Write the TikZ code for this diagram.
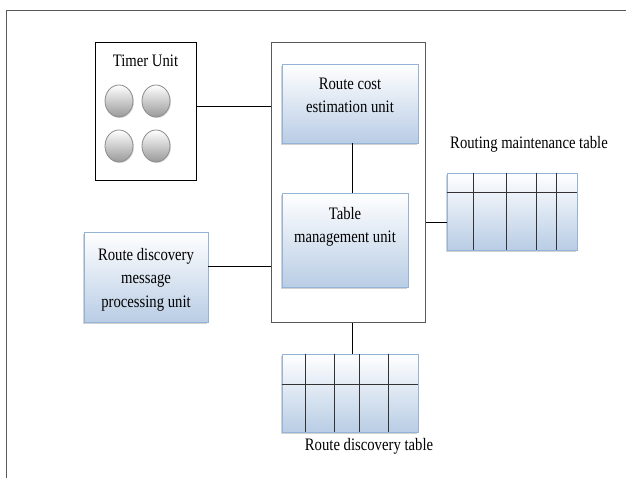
\documentclass[tikz,border=0pt]{standalone}
\usepackage{fontspec}
\setmainfont{Liberation Serif}[FakeStretch=0.84]
\usetikzlibrary{positioning,calc,shadows}
\definecolor{boxblue}{HTML}{B9CDE5}
\definecolor{boxedge}{HTML}{95B3D7}
\definecolor{gridline}{HTML}{333333}
\definecolor{framegray}{HTML}{595959}

\begin{document}
\begin{tikzpicture}[x=1pt, y=-1pt, font=\fontsize{17.5}{23.5}\selectfont,
  unitbox/.style={draw=boxedge, line width=0.6pt, top color=white, bottom color=boxblue, inner sep=0pt,
    drop shadow={shadow xshift=-1.2pt, shadow yshift=-2pt, opacity=0.35}},
  caption/.style={align=center, inner sep=0pt},
  knob/.style={draw=gray!90, line width=0.8pt, top color=white, bottom color=gray!80,
    drop shadow={shadow xshift=1pt, shadow yshift=-1pt, opacity=0.25}},
  cell/.style={gridline, line width=1pt},
  link/.style={black, line width=0.9pt}]
  \useasboundingbox (0,0) rectangle (626,478);
  \draw[framegray, line width=1pt] (6,478) -- (6,11) -- (626,11);

  % timer unit with its four knobs
  \node[draw=black, line width=1pt, fill=white, minimum width=101pt, minimum height=138pt] (timer) at (145.5,112) {};
  \node[caption, below=12pt of timer.north] (timertext) {Timer Unit};
  \foreach \cx/\cy in {119/101, 156/101, 119/146, 156/146}
    \draw[knob] (\cx,\cy) ellipse [x radius=14, y radius=16];

  % central block
  \node[draw=framegray, line width=1pt, fill=white, minimum width=154pt, minimum height=279pt] (core) at (348,182.5) {};
  \node[unitbox, minimum width=136pt, minimum height=79pt] (cost) at (350,103.5) {};
  \node[caption, below=14pt of cost.north] (costtext) {Route cost\\estimation unit};
  \node[unitbox, minimum width=126pt, minimum height=94pt] (mgmt) at (345,240) {};
  \node[caption, below=14pt of mgmt.north] (mgmttext) {Table\\management unit};

  % discovery message unit
  \node[unitbox, minimum width=124pt, minimum height=90pt] (disc) at (146,277) {};
  \node[caption, below=16pt of disc.north] (disctext) {Route discovery\\message\\processing unit};

  % the two tables
  \node[unitbox, minimum width=130pt, minimum height=77pt] (mtable) at (512,211.5) {};
  \foreach \dx in {27,60,90,110}
    \draw[cell] ($(mtable.north west)+(\dx,0)$) -- ($(mtable.south west)+(\dx,0)$);
  \draw[cell] ($(mtable.north west)+(0,20)$) -- ($(mtable.north east)+(0,20)$);
  \node[anchor=base] (mtitle) at (529,149) {Routing maintenance table};

  \node[unitbox, minimum width=136pt, minimum height=78pt] (dtable) at (350,393) {};
  \foreach \dx in {24,53,78,107}
    \draw[cell] ($(dtable.north west)+(\dx,0)$) -- ($(dtable.south west)+(\dx,0)$);
  \draw[cell] ($(dtable.north west)+(0,31)$) -- ($(dtable.north east)+(0,31)$);
  \node[anchor=base] (dtitle) at (369,450) {Route discovery table};

  % connectors
  \coordinate (tlink) at ([yshift=6pt]timer.east);
  \draw[link] (tlink) -- (tlink -| core.west);
  \coordinate (dlink) at ([yshift=11pt]disc.east);
  \draw[link] (dlink) -- (dlink -| core.west);
  \coordinate (mlink) at ([yshift=-10.5pt]mtable.west);
  \draw[link] (mlink) -- (mlink -| core.east);
  \coordinate (clink) at ([xshift=2pt]cost.south);
  \draw[link] (clink) -- (clink |- mgmt.north);
  \coordinate (tablink) at ([xshift=2pt]dtable.north);
  \draw[link] (tablink) -- (tablink |- core.south);
\end{tikzpicture}
\end{document}
